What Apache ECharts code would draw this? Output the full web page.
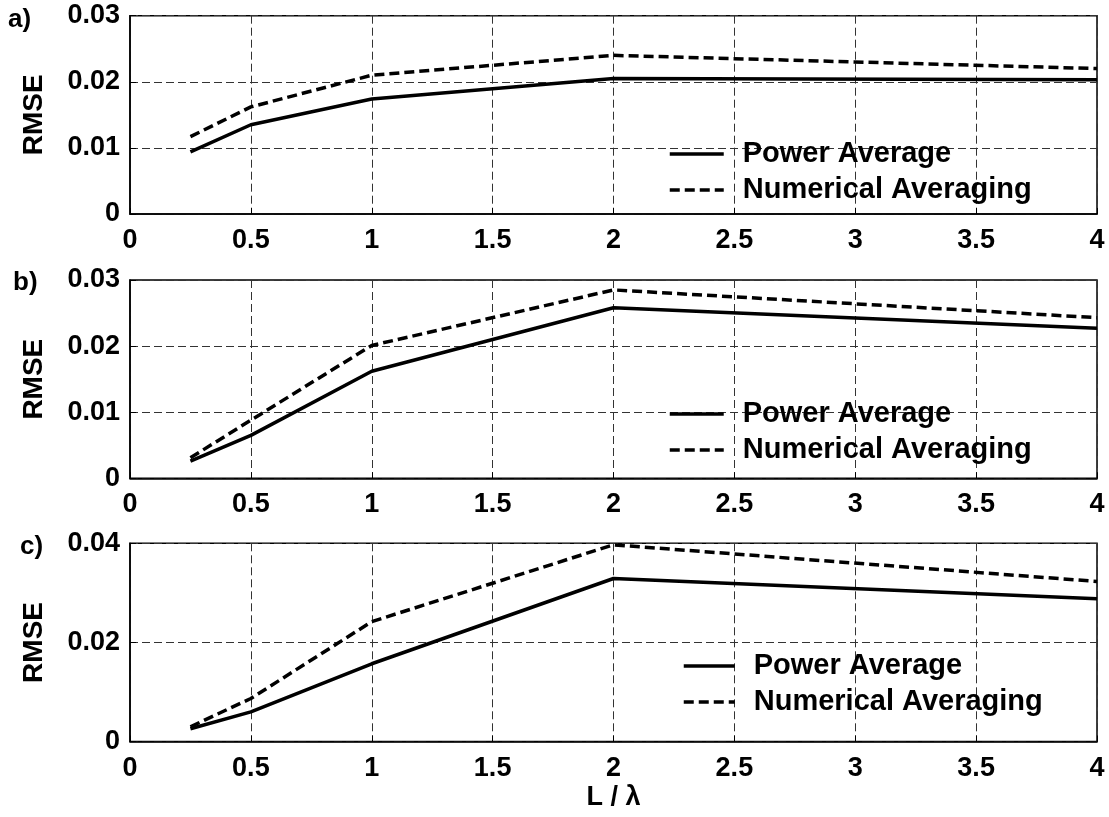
<!DOCTYPE html>
<html><head><meta charset="utf-8">
<script src="https://cdn.jsdelivr.net/npm/echarts@6/dist/echarts.min.js"></script>
<style>html,body{margin:0;padding:0;background:#fff}#c{width:1109px;height:817px}</style>
</head><body><div id="c"></div>
<script>
const xValues = [0.25, 0.5, 1, 2, 4];
const xTicks = [0, 0.5, 1, 1.5, 2, 2.5, 3, 3.5, 4];
const powerA = [0.0094, 0.0135, 0.0174, 0.0205, 0.0203];
const numA   = [0.0117, 0.0162, 0.0210, 0.0240, 0.0220];
const powerB = [0.0026, 0.0065, 0.0162, 0.0258, 0.0227];
const numB   = [0.0031, 0.0088, 0.0201, 0.0285, 0.0243];
const powerC = [0.0026, 0.0060, 0.0157, 0.0329, 0.0288];
const numC   = [0.0030, 0.0087, 0.0242, 0.0397, 0.0323];
const yMax = [0.03, 0.03, 0.04];
const yStep = [0.01, 0.01, 0.02];
const panelLabels = ['a)', 'b)', 'c)'];
const names = ['Power Average', 'Numerical Averaging'];

const FONT = "'Liberation Sans', Arial, sans-serif";
const tops = [15.7, 280, 543.3];
const H = 198.3;
const chart = echarts.init(document.getElementById('c'));

const grids = [], xAxes = [], yAxes = [], series = [], legends = [], titles = [];
const sets = [[powerA, numA], [powerB, numB], [powerC, numC]];
const legendPos = [
  {left: 668, top: 137, w: 54},
  {left: 668, top: 397, w: 54},
  {left: 682, top: 649, w: 51}
];
const titlePos = [[8, 7], [13, 270], [20, 534]];
const gridLine = {color: '#333', width: 1, type: [8, 4]};
for (let i = 0; i < 3; i++) {
  grids.push({left: 130, top: tops[i], width: 967, height: H, show: true, borderColor: '#000', borderWidth: 1.5, backgroundColor: 'transparent'});
  xAxes.push({
    type: 'value', gridIndex: i, min: 0, max: 4, interval: 0.5,
    axisLine: {show: true, lineStyle: {color: '#000', width: 1.5}},
    axisTick: {show: true, inside: true, length: 6, lineStyle: {color: '#000'}},
    axisLabel: {color: '#000', fontFamily: FONT, fontWeight: 'bold', fontSize: 27, margin: 13,
      formatter: v => String(xTicks[Math.round(v / 0.5)])},
    splitLine: {show: true, lineStyle: gridLine},
    name: i === 2 ? 'L / λ' : '', nameLocation: 'middle', nameGap: 42,
    nameTextStyle: {color: '#000', fontFamily: FONT, fontWeight: 'bold', fontSize: 27}
  });
  yAxes.push({
    type: 'value', gridIndex: i, min: 0, max: yMax[i], interval: yStep[i],
    axisLine: {show: true, lineStyle: {color: '#000', width: 1.5}},
    axisTick: {show: true, inside: true, length: 6, lineStyle: {color: '#000'}},
    axisLabel: {color: '#000', fontFamily: FONT, fontWeight: 'bold', fontSize: 27, margin: 10,
      padding: [4, 0, 0, 0],
      formatter: v => v === 0 ? '0' : v.toFixed(2)},
    splitLine: {show: true, lineStyle: gridLine},
    name: 'RMSE', nameLocation: 'middle', nameGap: 82,
    nameTextStyle: {color: '#000', fontFamily: FONT, fontWeight: 'bold', fontSize: 28}
  });
  const [pw, nm] = sets[i];
  series.push({
    name: names[0], type: 'line', xAxisIndex: i, yAxisIndex: i, showSymbol: false, symbol: 'none',
    data: xValues.map((x, k) => [x, pw[k]]),
    lineStyle: {color: '#000', width: 3.5, type: 'solid'}, itemStyle: {color: '#000'}, z: 3
  });
  series.push({
    name: names[1], type: 'line', xAxisIndex: i, yAxisIndex: i, showSymbol: false, symbol: 'none',
    data: xValues.map((x, k) => [x, nm[k]]),
    lineStyle: {color: '#000', width: 3.5, type: [10, 5]}, itemStyle: {color: '#000'}, z: 3
  });
  const lp = legendPos[i];
  legends.push({
    data: names, orient: 'vertical', left: lp.left, top: lp.top, itemGap: 2,
    itemWidth: lp.w, itemHeight: 14, selectedMode: false, padding: 0,
    itemStyle: {color: 'rgba(0,0,0,0)', borderWidth: 0, opacity: 0},
    lineStyle: {width: 3.5},
    textStyle: {color: '#000', fontFamily: FONT, fontWeight: 'bold', fontSize: 29, lineHeight: 34, padding: [0, 0, 0, 14]}
  });
  titles.push({
    text: panelLabels[i], left: titlePos[i][0], top: titlePos[i][1], padding: 0,
    textStyle: {color: '#000', fontFamily: FONT, fontWeight: 'bold', fontSize: 26}
  });
}
chart.setOption({
  animation: false, backgroundColor: '#fff',
  title: titles, legend: legends, grid: grids, xAxis: xAxes, yAxis: yAxes, series: series
});
</script></body></html>
